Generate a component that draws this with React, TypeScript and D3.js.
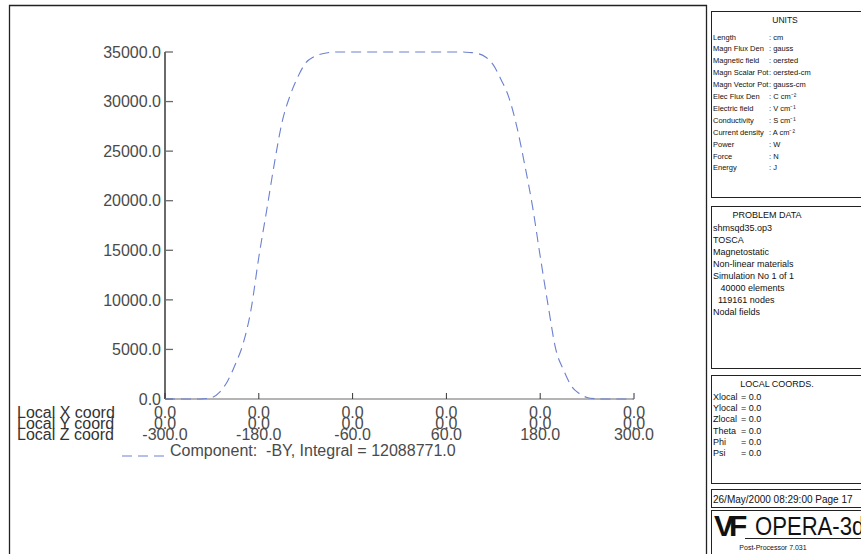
import React from "react";
import * as d3 from "d3";

// ---- data ----
const zCoord = [
  -300, -290, -280, -270, -260, -250, -240, -230, -220, -210, -200, -190, -180, -170, -160, -150,
  -140, -130, -120, -110, -100, -90, -80, -70, -60, -50, -40, -30, -20, -10, 0, 10, 20, 30, 40, 50,
  60, 70, 80, 90, 100, 110, 120, 130, 140, 150, 160, 170, 180, 190, 200, 210, 220, 230, 240, 250,
  260, 270, 280, 290, 300,
];
const byValues = [
  0, 0, 0, 0, 0, 30, 150, 700, 1800, 3500, 5600, 9000, 14300, 19000, 23800, 28000,
  30600, 32500, 33900, 34500, 34800, 34950, 35000, 35000, 35000, 35000, 35000, 35000, 35000, 35000, 35000, 35000, 35000, 35000, 35000, 35000,
  35000, 35000, 35000, 34950, 34850, 34500, 33700, 32200, 30400, 27500, 23700, 19500, 14400, 9500, 5000, 2900, 1300, 550, 150, 30,
  0, 0, 0, 0, 0,
];
const yTicks = [0, 5000, 10000, 15000, 20000, 25000, 30000, 35000];
const xTicksZ = [-300, -180, -60, 60, 180, 300];
const xTickLocalX = ["0.0", "0.0", "0.0", "0.0", "0.0", "0.0"];
const xTickLocalY = ["0.0", "0.0", "0.0", "0.0", "0.0", "0.0"];
const xTickLocalZ = ["-300.0", "-180.0", "-60.0", "60.0", "180.0", "300.0"];
const rowLabels = ["Local X coord", "Local Y coord", "Local Z coord"];
const legendText = "Component:  -BY, Integral = 12088771.0";

const unitsNames = [
  "Length", "Magn Flux Den", "Magnetic field", "Magn Scalar Pot", "Magn Vector Pot", "Elec Flux Den",
  "Electric field", "Conductivity", "Current density", "Power", "Force", "Energy",
];
const unitsValues = [
  ": cm", ": gauss", ": oersted", ": oersted-cm", ": gauss-cm", ": C cm\u207B\u00B2", ": V cm\u207B\u00B9",
  ": S cm\u207B\u00B9", ": A cm\u207B\u00B2", ": W", ": N", ": J",
];
const problemLines = [
  "shmsqd35.op3", "TOSCA", "Magnetostatic", "Non-linear materials", "Simulation No 1 of 1",
  "   40000 elements", "  119161 nodes", "Nodal fields",
];
const localNames = ["Xlocal", "Ylocal", "Zlocal", "Theta", "Phi", "Psi"];
const localValues = ["= 0.0", "= 0.0", "= 0.0", "= 0.0", "= 0.0", "= 0.0"];
const dateText = "26/May/2000 08:29:00 Page 17";

const W = 861;
const H = 554;
const FONT = "'Liberation Sans', Arial, sans-serif";

export default function App() {
  const x = d3.scaleLinear().domain([-300, 300]).range([165, 634]);
  const y = d3.scaleLinear().domain([0, 35000]).range([399, 52]);
  const pts = zCoord.map((z, i) => [z, byValues[i]] as [number, number]);
  const line = d3
    .line<[number, number]>()
    .x((d) => x(d[0]))
    .y((d) => y(d[1]))
    .curve(d3.curveMonotoneX);

  const rowY = [412, 423, 434];
  const axisCol = "#6a6a6a";
  const textCol = "#4a4a4a";
  const curveCol = "#6c80d0";
  const fs = 16;

  return (
    <svg
      width={W}
      height={H}
      style={{ position: "absolute", left: 0, top: 0, background: "#fff" }}
      fontFamily={FONT}
    >
      <rect x={0} y={0} width={W} height={H} fill="#fff" />
      {/* outer frame */}
      <path d={`M9.5,${H + 5} V5.5 H706.5 V${H + 5}`} fill="none" stroke="#222" strokeWidth={1.3} />

      {/* y axis */}
      <line x1={165} x2={165} y1={y(35000)} y2={y(0)} stroke={axisCol} strokeWidth={2} />
      {yTicks.map((t) => (
        <g key={t}>
          <line x1={165} x2={173} y1={y(t)} y2={y(t)} stroke={axisCol} strokeWidth={1.3} />
          <text x={161} y={y(t) + 5.7} textAnchor="end" fontSize={fs} fill={textCol}>
            {t.toFixed(1)}
          </text>
        </g>
      ))}

      {/* x axis */}
      <line x1={x(-300)} x2={x(300)} y1={y(0)} y2={y(0)} stroke={axisCol} strokeWidth={1.2} />
      {xTicksZ.map((z, i) => (
        <g key={z}>
          <line x1={x(z)} x2={x(z)} y1={y(0)} y2={y(0) - 6} stroke="#333" strokeWidth={1} />
          <text x={x(z)} y={rowY[0] + 5.7} textAnchor="middle" fontSize={fs} fill={textCol}>
            {xTickLocalX[i]}
          </text>
          <text x={x(z)} y={rowY[1] + 5.7} textAnchor="middle" fontSize={fs} fill={textCol}>
            {xTickLocalY[i]}
          </text>
          <text x={x(z)} y={rowY[2] + 5.7} textAnchor="middle" fontSize={fs} fill={textCol}>
            {xTickLocalZ[i]}
          </text>
        </g>
      ))}
      {rowLabels.map((l, i) => (
        <text key={l} x={17} y={rowY[i] + 5.7} fontSize={fs} fill="#333">
          {l}
        </text>
      ))}

      {/* curve */}
      <path d={line(pts) || ""} fill="none" stroke={curveCol} strokeWidth={1.1} strokeDasharray="10,6" />

      {/* legend */}
      <line x1={122} x2={164} y1={456} y2={456} stroke={curveCol} strokeWidth={1.1} strokeDasharray="10,6" />
      <text x={170} y={455.5} fontSize={fs} fill={textCol} xmlSpace="preserve" style={{ whiteSpace: "pre" }}>
        {legendText}
      </text>

      {/* right panel boxes */}
      <g fill="none" stroke="#222" strokeWidth={1}>
        <rect x={711.5} y={11.5} width={200} height={186} />
        <rect x={711.5} y={206.5} width={200} height={162} />
        <rect x={711.5} y={375.5} width={200} height={108} />
        <rect x={711.5} y={489.5} width={200} height={18} />
        <rect x={711.5} y={510.5} width={200} height={60} />
        <line x1={745} x2={900} y1={538.5} y2={538.5} />
      </g>

      {/* UNITS */}
      <text x={785} y={23} textAnchor="middle" fontSize={8.5} fill="#111">UNITS</text>
      {unitsNames.map((n, i) => (
        <g key={n}>
          <text x={713} y={39.5 + i * 11.9} fontSize={7.5} fill="#111">{n}</text>
          <text x={769} y={39.5 + i * 11.9} fontSize={7.5} fill="#111">{unitsValues[i]}</text>
        </g>
      ))}

      {/* PROBLEM DATA */}
      <text x={767} y={218} textAnchor="middle" fontSize={9} fill="#111">PROBLEM DATA</text>
      {problemLines.map((l, i) => (
        <text key={i} x={713} y={231 + i * 12} fontSize={9} fill="#111" xmlSpace="preserve" style={{ whiteSpace: "pre" }}>
          {l}
        </text>
      ))}

      {/* LOCAL COORDS */}
      <text x={777} y={387} textAnchor="middle" fontSize={9} fill="#111">LOCAL COORDS.</text>
      {localNames.map((n, i) => (
        <g key={n}>
          <text x={713} y={400 + i * 11.2} fontSize={9} fill="#111">{n}</text>
          <text x={741} y={400 + i * 11.2} fontSize={9} fill="#111">{localValues[i]}</text>
        </g>
      ))}

      {/* date */}
      <text x={713} y={502.5} fontSize={10} fill="#111">{dateText}</text>

      {/* logo */}
      <text x={714} y={536} fontSize={30} fontWeight={900} fill="#111" letterSpacing={-5}>VF</text>
      <g transform="translate(755,535) scale(0.85,1)">
        <text x={0} y={0} fontSize={26} fill="#111">OPERA-3d</text>
      </g>
      <text x={773} y={550} textAnchor="middle" fontSize={7} fill="#111">Post-Processor 7.031</text>
    </svg>
  );
}
